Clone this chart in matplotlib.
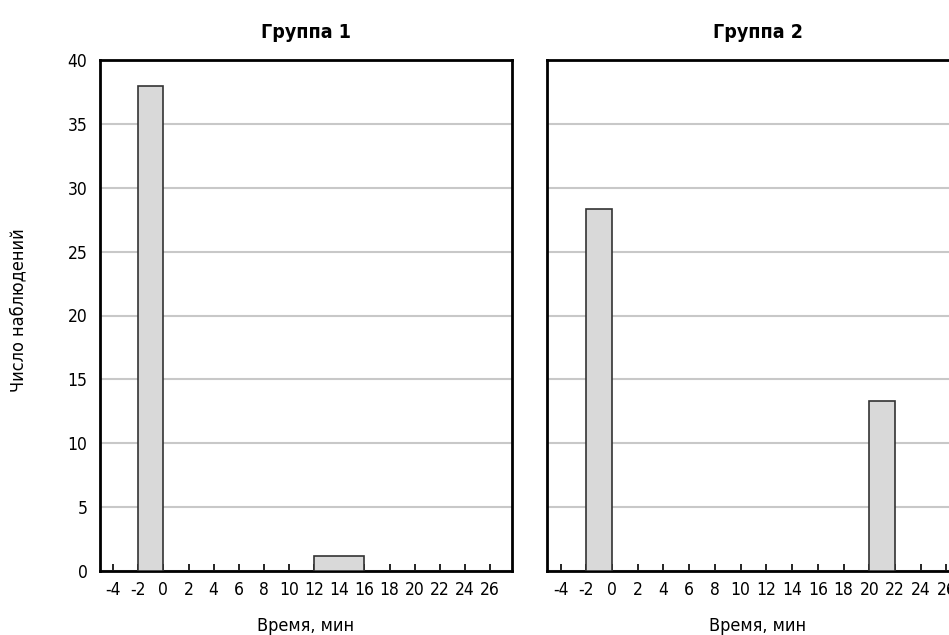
import numpy as np
import matplotlib
matplotlib.use("Agg")
import matplotlib.pyplot as plt

plt.rcParams['font.family'] = ['DejaVu Sans']
plt.rcParams['font.stretch'] = 'condensed'
plt.rcParams['axes.unicode_minus'] = False

# histogram bins (left edge, right edge) and heights for each group
g1_left = [-2, 12]
g1_right = [0, 16]
g1_height = [38, 1.15]

g2_left = [-2, 20]
g2_right = [0, 22]
g2_height = [28.3, 13.3]

titles = ["Группа 1", "Группа 2"]
xticks = np.arange(-4, 27, 2)
yticks = np.arange(0, 41, 5)

W, H = 949, 635
fig = plt.figure(figsize=(W / 100, H / 100), dpi=100)

# axes boxes in pixels: left, top, right, bottom
boxes = [(100, 60, 512, 571), (547, 60, 969, 571)]
data = [(g1_left, g1_right, g1_height), (g2_left, g2_right, g2_height)]

for i, (box, (lft, rgt, hgt)) in enumerate(zip(boxes, data)):
    x0, y0, x1, y1 = box
    ax = fig.add_axes([x0 / W, 1 - y1 / H, (x1 - x0) / W, (y1 - y0) / H])
    widths = np.array(rgt) - np.array(lft)
    ax.bar(lft, hgt, width=widths, align="edge", color="#d9d9d9",
           edgecolor="#333333", linewidth=1.2, zorder=3)
    ax.set_xlim(-5.05, 27.75)
    ax.set_ylim(0, 40)
    ax.set_xticks(xticks)
    ax.set_yticks(yticks)
    ax.yaxis.grid(True, color="#c8c8c8", linewidth=1.5, zorder=0)
    ax.set_axisbelow(True)
    for s in ax.spines.values():
        s.set_linewidth(2)
        s.set_color("black")
    ax.tick_params(axis="x", direction="in", length=5, width=1.2,
                   labelsize=12.5, pad=7)
    ax.tick_params(axis="y", length=0, labelsize=12.5, pad=9)
    if i == 1:
        ax.set_yticklabels([])
    else:
        ax.set_ylabel("Число наблюдений", fontsize=13)
        ax.yaxis.set_label_coords(-73 / (x1 - x0), 0.51)
    ax.set_title(titles[i], fontsize=14, fontweight="bold", pad=16)
    ax.set_xlabel("Время, мин", fontsize=13, labelpad=13)

fig.savefig("out.png", dpi=100)
